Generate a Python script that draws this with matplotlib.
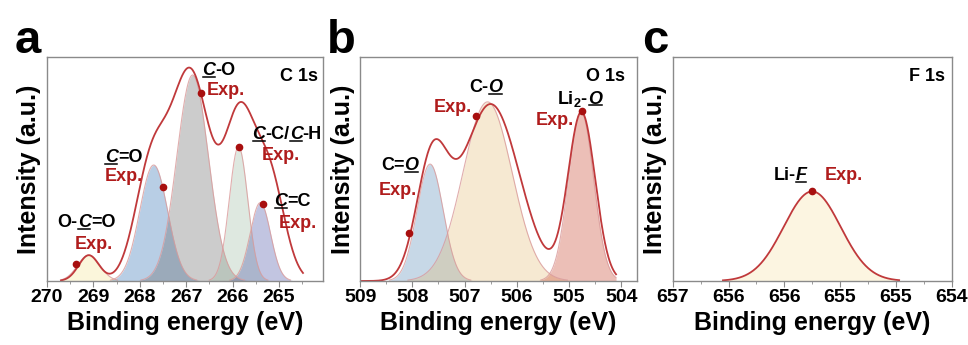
import numpy as np
import matplotlib
matplotlib.use('Agg')
import matplotlib.pyplot as plt
from matplotlib.lines import Line2D
from matplotlib.offsetbox import TextArea, HPacker, AnnotationBbox
from matplotlib.ticker import MultipleLocator, FixedLocator, FixedFormatter

plt.rcParams['font.family'] = ['Liberation Sans', 'DejaVu Sans']
plt.rcParams['font.weight'] = 'bold'
plt.rcParams['mathtext.fontset'] = 'custom'
plt.rcParams['mathtext.rm'] = 'Liberation Sans:bold'
plt.rcParams['mathtext.it'] = 'Liberation Sans:italic:bold'

# ---- panel a : C 1s ----
c_centers = [269.1, 267.7, 266.86, 265.87, 265.4]
c_heights = [0.116, 0.518, 0.92, 0.60, 0.35]
c_widths = [0.24, 0.30, 0.34, 0.20, 0.22]
c_colors = ['#f2e48a', '#165fac', '#585858', '#94b69b', '#37419e']
c_env_centers = [269.1, 267.75, 266.9, 265.85, 265.2]
c_env_heights = [0.115, 0.50, 0.92, 0.70, 0.45]
c_env_widths = [0.22, 0.35, 0.42, 0.33, 0.32]
c_range = (269.7, 264.48)
c_exp_x = [269.38, 267.49, 266.67, 265.85, 265.35]
c_exp_y = [0.076, 0.42, 0.84, 0.60, 0.345]

# ---- panel b : O 1s ----
o_centers = [507.66, 506.56, 504.77]
o_heights = [0.522, 0.80, 0.755]
o_widths = [0.25, 0.47, 0.24]
o_colors = ['#4880b2', '#e4b96c', '#c32d12']
o_env_centers = [507.62, 506.5, 504.76]
o_env_heights = [0.52, 0.79, 0.75]
o_env_widths = [0.30, 0.55, 0.26]
o_range = (509.0, 504.1)
o_exp_x = [508.06, 506.78, 504.76]
o_exp_y = [0.214, 0.737, 0.76]

# ---- panel c : F 1s ----
f_centers = [655.75]
f_heights = [0.40]
f_widths = [0.255]
f_colors = ['#f8e19e']
f_range = (656.55, 654.97)
f_exp_x = [655.75]
f_exp_y = [0.40]
f_ticks = [657, 656.5, 656, 655.5, 655, 654.5]
f_ticklabels = ['657', '656', '656', '655', '655', '654']

RED = '#c0393b'
DOT = '#a80f0f'
EXP = '#b01c1c'
LBL = 13

underlined = []


def gauss(x, c, h, w):
    return h * np.exp(-0.5 * ((x - c) / w) ** 2)


def label(ax, x, y, parts, color='black', size=LBL):
    # parts: (text, italic+underlined)
    boxes = []
    for txt, it in parts:
        ta = TextArea(txt, textprops=dict(fontsize=size, fontweight='bold', color=color,
                                          fontstyle='italic' if it else 'normal'))
        boxes.append(ta)
        if it:
            underlined.append(ta)
    pack = HPacker(children=boxes, align='baseline', pad=0, sep=0)
    ab = AnnotationBbox(pack, (x, y), xycoords='data', frameon=False,
                        box_alignment=(0.5, 0.5), pad=0)
    ax.add_artist(ab)


def panel(ax, centers, heights, widths, colors, xr, env=None, outline=True):
    x = np.linspace(xr[0], xr[1], 600)
    for c, h, w, col in zip(centers, heights, widths, colors):
        y = gauss(x, c, h, w)
        ax.fill_between(x, 0, y, color=col, alpha=0.3, lw=0)
        m = y > 0.004
        if outline:
            ax.plot(x[m], y[m], color='#d99a9a', lw=0.8, alpha=0.8)
    if env is None:
        env = (centers, heights, widths)
    ye = sum(gauss(x, c, h, w) for c, h, w in zip(*env))
    ax.plot(x, ye, color=RED, lw=1.3)


def style(ax, xlim):
    ax.set_xlim(*xlim)
    ax.set_ylim(0, 1)
    ax.set_yticks([])
    for s in ax.spines.values():
        s.set_color('#8a8a8a')
        s.set_linewidth(1.0)
    ax.tick_params(axis='x', which='major', direction='out', length=4, color='#8a8a8a',
                   labelsize=14, pad=2)
    ax.tick_params(axis='x', which='minor', direction='out', length=2.5, color='#8a8a8a')
    ax.set_xlabel('Binding energy (eV)', fontsize=18, fontweight='bold', labelpad=3)
    ax.set_ylabel('Intensity (a.u.)', fontsize=18, fontweight='bold', labelpad=4)


fig = plt.figure(figsize=(9.68, 3.45), dpi=100)
axa = fig.add_axes([0.0486, 0.1855, 0.285, 0.649])
axb = fig.add_axes([0.372, 0.1855, 0.286, 0.649])
axc = fig.add_axes([0.695, 0.1855, 0.288, 0.649])

# panel a
panel(axa, c_centers, c_heights, c_widths, c_colors, c_range,
      env=(c_env_centers, c_env_heights, c_env_widths))
axa.plot(c_exp_x, c_exp_y, 'o', color=DOT, ms=4.5, zorder=5)
style(axa, (270, 264.05))
axa.xaxis.set_major_locator(MultipleLocator(1))
axa.xaxis.set_minor_locator(MultipleLocator(0.5))
label(axa, 269.15, 0.26, [('O-', False), ('C', True), ('=O', False)])
label(axa, 269.0, 0.165, [('Exp.', False)], color=EXP)
label(axa, 268.35, 0.55, [('C', True), ('=O', False)])
label(axa, 268.35, 0.465, [('Exp.', False)], color=EXP)
label(axa, 266.3, 0.94, [('C', True), ('-O', False)])
label(axa, 266.15, 0.85, [('Exp.', False)], color=EXP)
label(axa, 264.82, 0.655, [('C', True), ('-C/', False), ('C', True), ('-H', False)])
label(axa, 264.96, 0.56, [('Exp.', False)], color=EXP)
label(axa, 264.7, 0.355, [('C', True), ('=C', False)])
label(axa, 264.6, 0.255, [('Exp.', False)], color=EXP)
label(axa, 264.57, 0.915, [('C 1s', False)])

# panel b
panel(axb, o_centers, o_heights, o_widths, o_colors, o_range,
      env=(o_env_centers, o_env_heights, o_env_widths))
axb.plot(o_exp_x, o_exp_y, 'o', color=DOT, ms=4.5, zorder=5)
style(axb, (509, 503.7))
axb.xaxis.set_major_locator(MultipleLocator(1))
axb.xaxis.set_minor_locator(MultipleLocator(0.5))
label(axb, 508.24, 0.515, [('C=', False), ('O', True)])
label(axb, 508.27, 0.405, [('Exp.', False)], color=EXP)
label(axb, 506.6, 0.865, [('C-', False), ('O', True)])
label(axb, 507.22, 0.775, [('Exp.', False)], color=EXP)
label(axb, 504.8, 0.815, [('Li$_2$-', False), ('O', True)])
label(axb, 505.28, 0.715, [('Exp.', False)], color=EXP)
label(axb, 504.3, 0.915, [('O 1s', False)])

# panel c
panel(axc, f_centers, f_heights, f_widths, f_colors, f_range, outline=False)
axc.plot(f_exp_x, f_exp_y, 'o', color=DOT, ms=4.5, zorder=5)
style(axc, (657, 654.5))
axc.xaxis.set_major_locator(FixedLocator(f_ticks))
axc.xaxis.set_major_formatter(FixedFormatter(f_ticklabels))
axc.xaxis.set_minor_locator(MultipleLocator(0.25))
label(axc, 655.95, 0.47, [('Li-', False), ('F', True)])
label(axc, 655.47, 0.47, [('Exp.', False)], color=EXP)
label(axc, 654.72, 0.915, [('F 1s', False)])

for ax in (axa, axb, axc):
    for t in ax.get_xticklabels():
        t.set_fontweight('bold')

for ch, xp in zip(['a', 'b', 'c'], [0.015, 0.338, 0.663]):
    fig.text(xp, 0.846, ch, fontsize=34, fontweight='bold', va='baseline')

# underline the italic letters once their positions are known
fig.canvas.draw()
r = fig.canvas.get_renderer()
inv = fig.transFigure.inverted()
for ta in underlined:
    bb = ta.get_window_extent(r)
    yl = bb.y0 + 0.13 * bb.height
    (x0, y0), (x1, _) = inv.transform([(bb.x0 + 0.5, yl), (bb.x1 - 0.5, yl)])
    fig.add_artist(Line2D([x0, x1], [y0, y0], color='black', lw=1.1,
                          transform=fig.transFigure))

fig.savefig('out.png', dpi=100)
